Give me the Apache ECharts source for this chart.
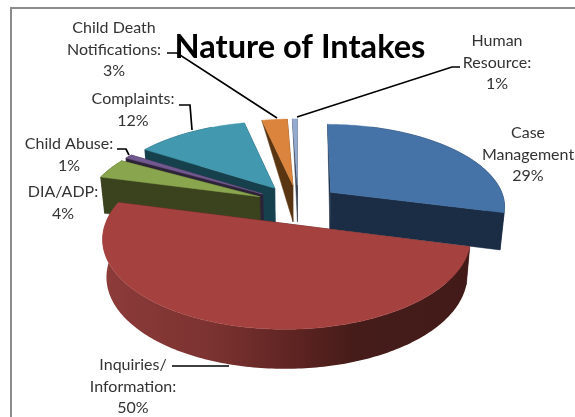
<!DOCTYPE html>
<html><head><meta charset="utf-8">
<style>html,body{margin:0;padding:0;background:#fff}#c{width:575px;height:417px}</style>
<script src="https://cdn.jsdelivr.net/npm/echarts@6/dist/echarts.min.js"></script>
</head><body><div id="c"></div>
<script>
// Data (clockwise from 12 o'clock)
const categories = ['Case\nManagement','Inquiries/\nInformation:','DIA/ADP:','Child Abuse:','Complaints:','Child Death\nNotifications:','Human\nResource:'];
const values = [28.9,50.1,4,1,12.4,2.9,0.7];
const topColors = ['#4572a7','#a54240','#89a54e','#71588f','#4198af','#db843d','#93a9cf'];
const sideColors = ['#1b2d45','#421b18','#3a431d','#2d2338','#17404d','#5a3512','#3b4453'];
const drawOrder = [6,5,4,0,3,2,1];
const labelCentres = [[528,133],[133,365],[63,192],[69,144],[133,99],[114,28],[497,41]];

// Perspective model of the pie
const cx=298, cy=204, A=175, B=82, p=0.157, explode=0.24, k=0.98, depth=37, farV=1.1, startDeg=0.5;
const total = values.reduce((a,b)=>a+b,0);
const rad = d=>d*Math.PI/180;
let acc = startDeg;
const spans = values.map(v=>{const s=acc; acc+=v/total*360; return [s,acc];});

function proj(theta,mid,r){
  const v = r*Math.cos(rad(theta))+explode*Math.cos(rad(mid));
  const u = r*Math.sin(rad(theta))+explode*Math.sin(rad(mid));
  const s = 1/(1+p*v);
  const x = cx+A*u*s, y = cy-B*v*s;
  return {x,y,v,top:[x,y],bot:[cx+(x-cx)*k, cy+(y-cy)*k+depth*Math.pow(s,0.6)]};
}
function renderItem(params,api){
  const i = drawOrder[api.value(0)];
  const [a0,a1] = spans[i], mid=(a0+a1)/2;
  const arc=[]; for(let t=a0;t<=a1+1e-6;t+=Math.min(1,(a1-a0))) arc.push(proj(t,mid,1));
  const c = proj(0,mid,0);
  const kids=[];
  const side=pts=>({type:'polygon',shape:{points:pts},style:{fill:sideColors[i],stroke:sideColors[i],lineWidth:.5}});
  // radial cut faces
  [arc[0],arc[arc.length-1]].forEach(r=>{
    const pts = r.v>farV ? [r.top,c.top,c.bot] : [r.top,c.top,c.bot,r.bot];
    kids.push(side(pts));
  });
  // outer wall
  const near = arc.filter(r=>r.v<=farV);
  if(near.length>1){
    const pts = near.map(r=>r.top).concat(near.slice().reverse().map(r=>r.bot));
    const w = side(pts);
    if(i===1){
      w.style.fill = new echarts.graphic.LinearGradient(107,0,470,0,[
        {offset:0,color:'#8c3b39'},{offset:.3,color:'#7a3230'},{offset:.53,color:'#5c2321'},
        {offset:.68,color:'#451c19'},{offset:1,color:'#421b18'}],true);
      w.style.stroke=null;
    }
    kids.push(w);
  }
  // top face
  kids.push({type:'polygon',shape:{points:[c.top].concat(arc.map(r=>r.top))},
    style:{fill:topColors[i],stroke:topColors[i],lineWidth:.5}});
  return {type:'group',children:kids};
}
const textColor='#333';
const leaders=[
  [[172,366],[229,366]],
  [[117,149],[126,149],[129,155]],
  [[179,105],[190,105],[192,130]],
  [[167,53],[177,53],[277,118]],
  [[460,67],[452,67],[297,117]]
];
const graphics=[
  {type:'polyline',shape:{points:[[11,417],[11,8],[575,8]]},style:{stroke:'#8c8c8c',lineWidth:2,fill:null},z:1}
];
leaders.forEach(pts=>graphics.push({type:'polyline',shape:{points:pts},style:{stroke:'#000',lineWidth:1.7,fill:null},z:20}));
categories.forEach((cat,i)=>{
  const lines=(cat+'\n'+Math.round(values[i])+'%').split('\n');
  lines.forEach((l,j)=>graphics.push({type:'text',x:labelCentres[i][0],y:labelCentres[i][1]+j*21.5,z:21,
    style:{text:l,fill:textColor,font:'16px Lato',textAlign:'center',textVerticalAlign:'middle'}}));
});
const chart=echarts.init(document.getElementById('c'),null,{renderer:'canvas'});
chart.setOption({
  animation:false,
  backgroundColor:'#fff',
  title:{text:'Nature of Intakes',left:295,top:42,textAlign:'center',textVerticalAlign:'middle',
    textStyle:{fontFamily:'Lato',fontWeight:'bold',fontSize:32.6,color:'#000'}},
  series:[{type:'custom',coordinateSystem:'none',renderItem,silent:true,z:5,data:drawOrder.map((_,i)=>[i])}],
  graphic:graphics
});
</script></body></html>
